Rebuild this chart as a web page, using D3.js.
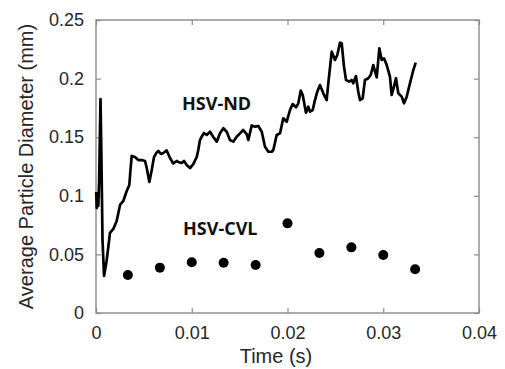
<!DOCTYPE html>
<html><head><meta charset="utf-8">
<script src="https://cdn.jsdelivr.net/npm/d3@7"></script>
<style>html,body{margin:0;padding:0;background:#fff;}svg{display:block;}</style>
</head><body>
<script>
// HSV-ND trace: time (s) and average particle diameter (mm)
const ndTime = [0.00002,0.00008,0.00016,0.00024,0.00033,0.00047,0.00057,0.00068,0.00084,0.00112,0.00131,0.00146,0.00181,0.00216,0.00251,0.00285,0.00321,0.00348,0.0036,0.00373,0.00407,0.00442,0.00477,0.00512,0.0053,0.00557,0.00582,0.00606,0.00634,0.00651,0.00679,0.00703,0.00738,0.00773,0.00807,0.00843,0.0086,0.00895,0.00919,0.00947,0.00982,0.01016,0.01052,0.01068,0.01086,0.01104,0.01128,0.01156,0.01191,0.01225,0.01261,0.01295,0.0133,0.01365,0.01399,0.01434,0.01469,0.01504,0.01538,0.01574,0.01591,0.01626,0.01661,0.01695,0.01731,0.01765,0.018,0.01835,0.01852,0.01887,0.01922,0.01956,0.01992,0.02026,0.02054,0.02089,0.02113,0.02138,0.02159,0.02193,0.02217,0.02235,0.02263,0.02287,0.02311,0.02339,0.02374,0.02409,0.02426,0.02462,0.02496,0.0252,0.02548,0.02566,0.0259,0.02611,0.02645,0.0267,0.02687,0.02715,0.02739,0.02757,0.02785,0.02809,0.02844,0.02869,0.02896,0.02914,0.02932,0.02959,0.02984,0.03008,0.03036,0.0307,0.03088,0.03112,0.03133,0.03157,0.03193,0.03217,0.03245,0.03279,0.03314,0.03339];
const ndDiam = [0.1032,0.0896,0.1007,0.0913,0.1135,0.1826,0.1305,0.0623,0.0316,0.0452,0.058,0.0683,0.0717,0.0785,0.0922,0.0956,0.1041,0.1092,0.122,0.134,0.1331,0.1305,0.1305,0.1297,0.1237,0.1118,0.122,0.1331,0.137,0.1382,0.1357,0.1365,0.1387,0.1323,0.1276,0.1297,0.1288,0.128,0.1297,0.1263,0.1237,0.1271,0.1331,0.1391,0.1476,0.1504,0.1536,0.1519,0.1547,0.1502,0.1462,0.1533,0.1576,0.1547,0.1476,0.1462,0.1504,0.1533,0.1561,0.1527,0.1476,0.16,0.159,0.1596,0.1547,0.1419,0.1376,0.1376,0.1391,0.1519,0.1533,0.1661,0.1632,0.1732,0.1783,0.1755,0.1789,0.1897,0.186,0.1709,0.176,0.1718,0.1732,0.1817,0.1888,0.1945,0.1874,0.1817,0.196,0.223,0.2159,0.2201,0.2306,0.2301,0.2102,0.1988,0.1974,0.1988,0.196,0.2022,0.1888,0.1817,0.1832,0.1988,0.2003,0.2031,0.2116,0.2059,0.2011,0.2259,0.2159,0.2173,0.2116,0.2016,0.186,0.1931,0.2003,0.1875,0.1846,0.1789,0.1846,0.196,0.2073,0.2136];
// HSV-CVL points
const cvlTime = [0.00333,0.00667,0.01,0.01333,0.01667,0.02,0.02333,0.02667,0.03,0.03333];
const cvlDiam = [0.0324,0.0387,0.0433,0.0429,0.041,0.0765,0.0512,0.056,0.0495,0.0373];
const xTicks = [0,0.01,0.02,0.03,0.04];
const yTicks = [0,0.05,0.1,0.15,0.2,0.25];
const xLabel = "Time (s)";
const yLabel = "Average Particle Diameter (mm)";
const ndLabel = "HSV-ND";
const cvlLabel = "HSV-CVL";

const W = 505, H = 369;
const m = {l: 96, r: 26, t: 20, b: 56};
const svg = d3.select("body").append("svg").attr("width", W).attr("height", H);
const x = d3.scaleLinear().domain([0, 0.04]).range([m.l, W - m.r]);
const y = d3.scaleLinear().domain([0, 0.25]).range([H - m.b, m.t]);
const axisCol = "#8a8a8a", textCol = "#262626";
const font = "'Liberation Sans', Arial, sans-serif";

function styleAxis(g) {
  g.select(".domain").remove();
  g.selectAll(".tick line").attr("stroke", axisCol).attr("stroke-width", 1.2);
  g.selectAll(".tick text").attr("fill", textCol).attr("font-family", font).attr("font-size", 18);
}
const fmt = d => d === 0 ? "0" : String(+d.toFixed(3));
svg.append("g").attr("transform", `translate(0,${y(0)})`)
  .call(d3.axisBottom(x).tickValues(xTicks).tickFormat(fmt).tickSize(-5).tickPadding(13))
  .call(styleAxis);
svg.append("g").attr("transform", `translate(0,${y(0.25)})`)
  .call(d3.axisTop(x).tickValues(xTicks).tickFormat("").tickSize(-5))
  .call(styleAxis);
svg.append("g").attr("transform", `translate(${x(0)},0)`)
  .call(d3.axisLeft(y).tickValues(yTicks).tickFormat(fmt).tickSize(-5).tickPadding(12))
  .call(styleAxis);
svg.append("g").attr("transform", `translate(${x(0.04)},0)`)
  .call(d3.axisRight(y).tickValues(yTicks).tickFormat("").tickSize(-5))
  .call(styleAxis);
svg.append("rect").attr("x", x(0)).attr("y", y(0.25))
  .attr("width", x(0.04) - x(0)).attr("height", y(0) - y(0.25))
  .attr("fill", "none").attr("stroke", axisCol).attr("stroke-width", 1.4);

const nd = ndTime.map((t, i) => [t, ndDiam[i]]);
svg.append("path").datum(nd)
  .attr("d", d3.line().x(d => x(d[0])).y(d => y(d[1])))
  .attr("fill", "none").attr("stroke", "#000").attr("stroke-width", 2.7)
  .attr("stroke-linejoin", "round");

svg.selectAll("circle.cvl").data(cvlTime.map((t, i) => [t, cvlDiam[i]]))
  .enter().append("circle").attr("class", "cvl")
  .attr("cx", d => x(d[0])).attr("cy", d => y(d[1])).attr("r", 5).attr("fill", "#000");

svg.append("text").attr("x", 182).attr("y", 110).text(ndLabel)
  .attr("font-family", "'Open Sans', sans-serif").attr("font-weight", "bold").attr("font-size", 18).attr("fill", "#111");
svg.append("text").attr("x", 183).attr("y", 235).text(cvlLabel)
  .attr("font-family", "'Open Sans', sans-serif").attr("font-weight", "bold").attr("font-size", 18).attr("fill", "#111");

svg.append("text").attr("x", 276).attr("y", 363)
  .attr("text-anchor", "middle").text(xLabel)
  .attr("font-family", font).attr("font-size", 20).attr("fill", textCol);
svg.append("text").attr("transform", `translate(33,${(y(0) + y(0.25)) / 2}) rotate(-90)`)
  .attr("text-anchor", "middle").text(yLabel)
  .attr("font-family", font).attr("font-size", 20).attr("fill", textCol);
</script>
</body></html>
